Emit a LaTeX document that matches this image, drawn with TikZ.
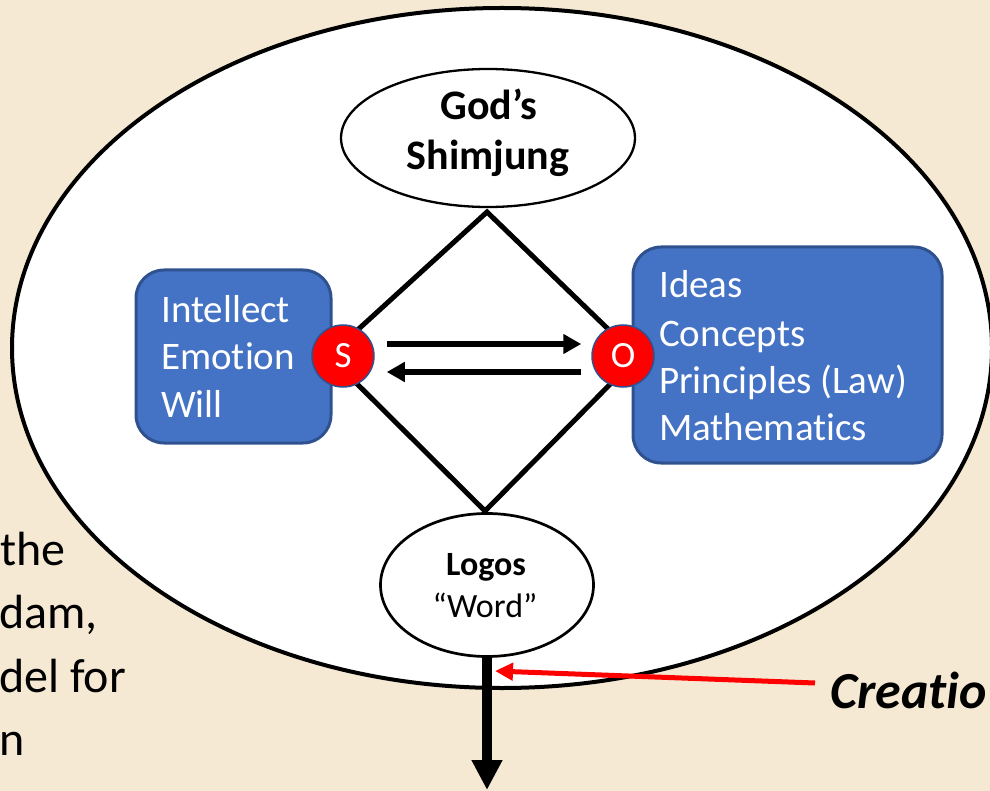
\documentclass[tikz,border=0pt]{standalone}
\usepackage{fontspec}
\setmainfont{Carlito}[Ligatures=NoCommon]
\usetikzlibrary{arrows.meta,shapes.geometric}
\definecolor{slidebg}{HTML}{F5E9D3}
\definecolor{boxblue}{HTML}{4472C4}
\definecolor{boxedge}{HTML}{2F528F}
\definecolor{pptred}{HTML}{FF0000}
\begin{document}
\begin{tikzpicture}[x=1pt,y=-1pt,
  bodytext/.style={font=\fontsize{48}{58}\selectfont, inner sep=0pt, anchor=base west, text=black},
  boxtext/.style={font=\fontsize{39}{47}\selectfont, inner sep=0pt, anchor=base west, text=white},
  bluebox/.style={draw=boxedge, fill=boxblue, line width=3pt, rounded corners=28pt, inner sep=0pt},
  sonode/.style={circle, fill=pptred, draw=boxedge, line width=1.5pt, minimum size=62pt, inner sep=0pt, text=white, font=\fontsize{37}{37}\selectfont},
  oval/.style={ellipse, draw=black, fill=white, inner sep=0pt},
  ovaltext/.style={inner sep=0pt, anchor=base, text=black},
  harrow/.style={line width=6pt, -{Triangle[length=18pt,width=19pt]}},
  downarrow/.style={line width=10pt, -{Triangle[length=30pt,width=29pt]}},
  redarrow/.style={draw=pptred, line width=5pt, -{Triangle[length=18pt,width=17pt]}}
]
\useasboundingbox (0,0) rectangle (990,791);
\clip (0,0) rectangle (990,791);
\fill[slidebg] (0,0) rectangle (990,791);

% slide text on the left
\node[bodytext] (l1) at (0,565) {the};
\node[bodytext] (l2) at (-1,628) {dam,};
\node[bodytext] (l3) at (-1,692) {del for};
\node[bodytext] (l4) at (-1,755) {n};

% big ellipse
\node[oval, line width=4pt, minimum width=980pt, minimum height=680pt] (world) at (502,348) {};

% diamond
\coordinate (dtop) at (487,212);
\coordinate (dleft) at (329,356);
\coordinate (dbot) at (485,511);
\coordinate (dright) at (637,357);
\draw[line width=5pt, line join=miter] (dtop) -- (dleft) -- (dbot) -- (dright) -- cycle;

% God's Shimjung
\node[oval, line width=2.3pt, minimum width=294pt, minimum height=138pt] (god) at (488,138) {};
\node[ovaltext, font=\bfseries\fontsize{42}{50}\selectfont] (godl1) at (489,120) {God’s};
\node[ovaltext, font=\bfseries\fontsize{42}{50}\selectfont] (godl2) at (488,170) {Shimjung};

% Logos
\node[oval, line width=2.7pt, minimum width=213pt, minimum height=143pt] (logos) at (487,585) {};
\node[ovaltext, font=\bfseries\fontsize{34}{40}\selectfont] (logosl1) at (486,575) {Logos};
\node[ovaltext, font=\fontsize{34}{40}\selectfont] (logosl2) at (485,617) {“Word”};

% blue boxes
\node[bluebox, minimum width=195pt, minimum height=173pt] (lbox) at (233.5,356.5) {};
\node[boxtext] (lb1) at (161,323) {Intellect};
\node[boxtext] (lb2) at (161,370) {Emotion};
\node[boxtext] (lb3) at (161,417) {Will};

\node[bluebox, minimum width=309pt, minimum height=216pt] (rbox) at (787.5,355) {};
\node[boxtext] (rb1) at (659,298) {Ideas};
\node[boxtext] (rb2) at (659,346) {Concepts};
\node[boxtext] (rb3) at (659,393) {Principles (Law)};
\node[boxtext] (rb4) at (659,440) {Mathematics};

% S and O
\node[sonode] (S) at (343,356) {S};
\node[sonode] (O) at (623,356) {O};

\draw[harrow] ([shift={(12,-12)}]S.east) -- ([shift={(-10,-12)}]O.west);
\draw[harrow] ([shift={(-10,16)}]O.west) -- ([shift={(12,16)}]S.east);

% downward arrow
\coordinate (bottomend) at (487,790);
\draw[downarrow] (logos.south) -- (bottomend);

% Creation label and red arrow
\node[inner sep=0pt, anchor=base west, font=\bfseries\itshape\fontsize{52}{60}\selectfont] (creat) at (830,708) {Creatio};
\coordinate (redstart) at (815,683);
\coordinate (redend) at (495,671);
\draw[redarrow] (redstart) -- (redend);
\end{tikzpicture}
\end{document}
